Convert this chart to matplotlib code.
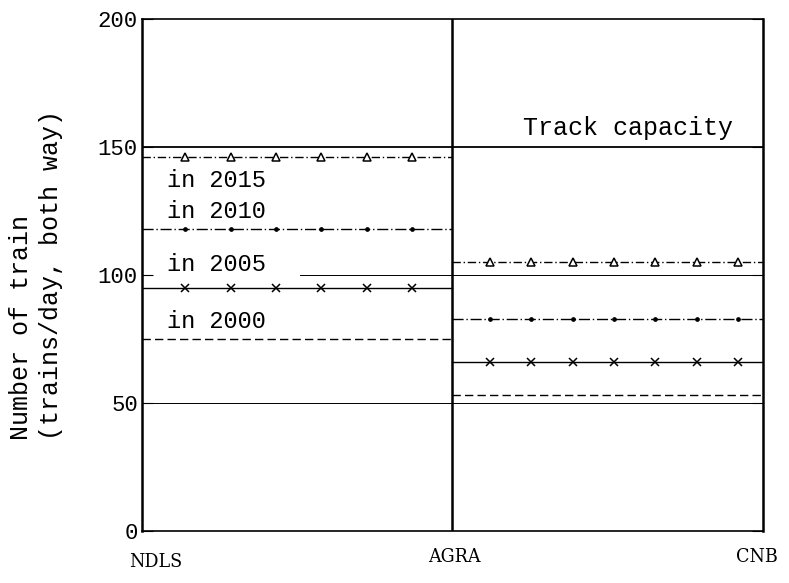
import numpy as np
import matplotlib
matplotlib.use("Agg")
import matplotlib.pyplot as plt

plt.rcParams['font.family'] = ['Liberation Mono', 'DejaVu Sans']

# stations along the line and the two sections between them
stations = ['NDLS', 'AGRA', 'CNB']
station_pos = [0, 1, 2]
capacity = 150

# trains/day on each section (NDLS-AGRA, AGRA-CNB)
years = ['2000', '2005', '2010', '2015']
demand_ndls_agra = [75, 95, 118, 146]
demand_agra_cnb = [53, 66, 83, 105]

styles = {
    '2000': dict(ls=(0, (6, 3)), marker=None),
    '2005': dict(ls='-', marker='x'),
    '2010': dict(ls=(0, (8, 2, 1, 2)), marker='.'),
    '2015': dict(ls=(0, (6, 2, 1, 2)), marker='^'),
}

fig = plt.figure(figsize=(7.89, 5.83), dpi=100)
ax = fig.add_axes([0.180, 0.089, 0.787, 0.878])

# reference lines
ax.plot([0, 2], [capacity, capacity], color='black', lw=1.3)
ax.plot([0, 2], [50, 50], color='black', lw=0.7)
ax.plot([0.51, 2], [100, 100], color='black', lw=0.7)
ax.axvline(1, color='black', lw=1.8)

left_marks = np.linspace(0.14, 0.87, 6)
right_marks = 1 + np.linspace(0.12, 0.92, 7)

for i, yr in enumerate(years):
    st = styles[yr]
    for (x0, x1), v, marks in [((0, 1), demand_ndls_agra[i], left_marks),
                               ((1, 2), demand_agra_cnb[i], right_marks)]:
        ax.plot([x0, x1], [v, v], color='black', lw=1.0, ls=st['ls'])
        if st['marker'] is not None:
            if st['marker'] == '^':
                ax.plot(marks, np.full(len(marks), v), ls='none', marker='^',
                        ms=6, mfc='white', mec='black', mew=1.1)
            elif st['marker'] == 'x':
                ax.plot(marks, np.full(len(marks), v), ls='none', marker='x',
                        ms=6, color='black', mew=1.1)
            else:
                ax.plot(marks, np.full(len(marks), v), ls='none', marker='o',
                        ms=2.4, color='black')

# year labels beside the NDLS-AGRA lines
label_y = {'2015': 137, '2010': 125, '2005': 104, '2000': 82}
for yr in years:
    ax.text(0.08, label_y[yr], 'in ' + yr, fontsize=17, ha='left', va='center')

ax.text(1.905, 153, 'Track capacity', fontsize=18, ha='right', va='bottom')

ax.set_xlim(0, 2)
ax.set_ylim(0, 200)
ax.set_xticks(station_pos)
ax.set_xticklabels([])
ax.tick_params(axis='x', length=0)

# station names under the axis, nudged off their positions a little
offsets = [(14, -31), (2, -26), (-6, -26)]
for name, pos, (dx, dy) in zip(stations, station_pos, offsets):
    ax.annotate(name, xy=(pos, 0), xycoords=('data', 'axes fraction'),
                xytext=(dx, dy), textcoords='offset pixels',
                ha='center', va='center', family='DejaVu Serif',
                fontstretch='condensed', fontsize=14, annotation_clip=False)

ax.set_yticks([0, 50, 100, 150, 200])
ax.tick_params(axis='y', direction='in', length=8, labelsize=16, pad=3)
ax.tick_params(axis='y', right=True)

for side in ['left', 'right']:
    ax.spines[side].set_linewidth(1.8)
for side in ['top', 'bottom']:
    ax.spines[side].set_linewidth(1.2)

ax.set_ylabel('Number of train\n(trains/day, both way)', fontsize=18,
              linespacing=1.3, multialignment='left')
ax.yaxis.set_label_coords(-0.127, 0.5)

fig.savefig('out.png', dpi=100)
